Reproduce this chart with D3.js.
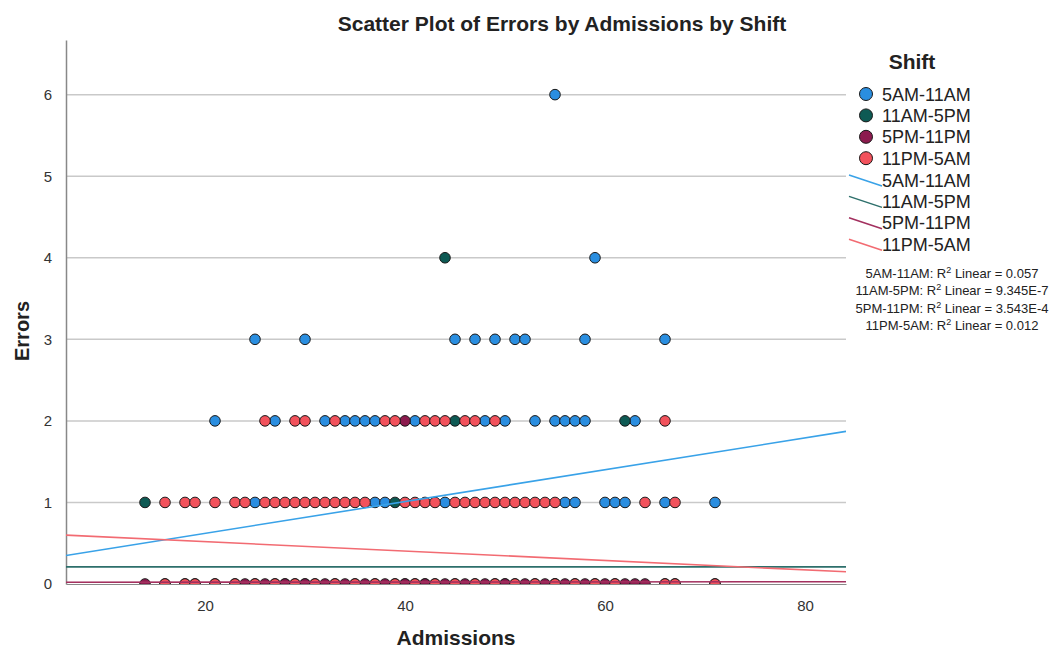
<!DOCTYPE html>
<html>
<head>
<meta charset="utf-8">
<script src="https://d3js.org/d3.v7.min.js"></script>
<style>
body { margin: 0; background: #fff; }
svg text { font-family: "Liberation Sans", Arial, sans-serif; }
</style>
</head>
<body>
<svg id="chart" width="1063" height="650"></svg>
<script>
// shift names, in legend order
var shifts = ["5AM-11AM", "11AM-5PM", "5PM-11PM", "11PM-5AM"];

// [admissions, errors]
var morningPoints = [
	[30, 0], [40, 0], [50, 0],
	[25, 1], [37, 1], [38, 1], [44, 1], [56, 1], [57, 1], [60, 1], [61, 1], [62, 1], [66, 1], [71, 1],
	[21, 2], [27, 2], [32, 2], [34, 2], [35, 2], [36, 2], [37, 2], [41, 2], [48, 2], [50, 2],
	[53, 2], [55, 2], [56, 2], [57, 2], [58, 2], [63, 2],
	[25, 3], [30, 3], [45, 3], [47, 3], [49, 3], [51, 3], [52, 3], [58, 3], [66, 3],
	[59, 4], [55, 6]
];
var afternoonPoints = [
	[28, 0], [42, 0], [55, 0],
	[14, 1], [39, 1],
	[45, 2], [62, 2],
	[44, 4]
];
var eveningPoints = [
	[14, 0], [16, 0], [18, 0], [19, 0], [21, 0], [23, 0], [24, 0], [25, 0], [26, 0], [27, 0], [28, 0],
	[29, 0], [30, 0], [31, 0], [32, 0], [33, 0], [34, 0], [35, 0], [36, 0], [37, 0], [38, 0], [39, 0],
	[40, 0], [41, 0], [42, 0], [43, 0], [44, 0], [45, 0], [46, 0], [47, 0], [48, 0], [49, 0], [50, 0],
	[51, 0], [52, 0], [53, 0], [54, 0], [55, 0], [56, 0], [57, 0], [58, 0], [59, 0], [60, 0], [61, 0],
	[62, 0], [63, 0], [64, 0], [66, 0], [67, 0], [71, 0],
	[40, 2]
];
var nightPoints = [
	[16, 0], [18, 0], [19, 0], [21, 0], [23, 0], [25, 0], [27, 0], [29, 0], [31, 0], [33, 0], [35, 0],
	[37, 0], [39, 0], [41, 0], [43, 0], [45, 0], [47, 0], [49, 0], [51, 0], [53, 0], [55, 0], [57, 0],
	[59, 0], [61, 0], [66, 0], [67, 0], [71, 0],
	[16, 1], [18, 1], [19, 1], [21, 1], [23, 1], [24, 1], [26, 1], [27, 1], [28, 1], [29, 1], [30, 1],
	[31, 1], [32, 1], [33, 1], [34, 1], [35, 1], [36, 1], [40, 1], [41, 1], [42, 1], [43, 1], [45, 1],
	[46, 1], [47, 1], [48, 1], [49, 1], [50, 1], [51, 1], [52, 1], [53, 1], [54, 1], [55, 1], [64, 1], [67, 1],
	[26, 2], [29, 2], [30, 2], [33, 2], [38, 2], [39, 2], [42, 2], [43, 2], [44, 2], [46, 2], [47, 2],
	[49, 2], [66, 2]
];

// linear fit lines (intercept, slope) and R squared from the legend
var fitIntercepts = [0.231, 0.21, 0.02, 0.635];
var fitSlopes = [0.0195, 0.0, 0.0001, -0.00577];
var fitR2 = ["0.057", "9.345E-7", "3.543E-4", "0.012"];

var xTicks = [20, 40, 60, 80];
var yTicks = [0, 1, 2, 3, 4, 5, 6];

var fillColors = ["#2a8ee0", "#0e5a54", "#8c1b4e", "#f2525c"];
var lineColors = ["#39a2e8", "#2d6f6b", "#a3305f", "#f26b72"];

var WIDTH = 1063, HEIGHT = 650, MARGINS = {
	top : 40,
	right : 217,
	bottom : 66,
	left : 66
};

var vis = d3.select("#chart");
var allPoints = [morningPoints, afternoonPoints, eveningPoints, nightPoints];

var xScale = d3.scaleLinear().domain([ 6.1, 84.1 ])
		.range([ MARGINS.left, WIDTH - MARGINS.right ]);
var yScale = d3.scaleLinear().domain([ 0, 6.67 ])
		.range([ HEIGHT - MARGINS.bottom, MARGINS.top ]);

// title
vis.append("text")
	.attr("x", 562).attr("y", 31)
	.attr("text-anchor", "middle")
	.style("font-size", "21px").style("font-weight", "bold").style("fill", "#222")
	.text("Scatter Plot of Errors by Admissions by Shift");

// grid lines
vis.append("g").selectAll("line")
	.data(yTicks.filter(function(d) { return d > 0; }))
	.enter().append("line")
	.attr("x1", MARGINS.left).attr("x2", WIDTH - MARGINS.right)
	.attr("y1", function(d) { return yScale(d); })
	.attr("y2", function(d) { return yScale(d); })
	.attr("stroke", "#c9c9c9").attr("stroke-width", 1.5);

var xAxis = d3.axisBottom(xScale).tickValues(xTicks).tickSize(0).tickPadding(16)
		.tickFormat(d3.format("d"));
var yAxis = d3.axisLeft(yScale).tickValues(yTicks).tickSize(0).tickPadding(14)
		.tickFormat(d3.format("d"));

var gx = vis.append("g").attr("transform", "translate(0," + (HEIGHT - MARGINS.bottom) + ")").call(xAxis);
var gy = vis.append("g").attr("transform", "translate(" + MARGINS.left + ",0)").call(yAxis);
gx.select(".domain").attr("stroke", "#888");
gy.select(".domain").attr("stroke", "#888").attr("stroke-width", 1.5);
[gx, gy].forEach(function(g) {
	g.selectAll("text").style("font-size", "15px").style("fill", "#333")
		.style("font-family", "'Liberation Sans', Arial, sans-serif");
});

// axis titles
vis.append("text")
	.attr("x", 456).attr("y", 645)
	.attr("text-anchor", "middle")
	.style("font-size", "21px").style("font-weight", "bold").style("fill", "#222")
	.text("Admissions");
vis.append("text")
	.attr("transform", "translate(29,331) rotate(-90)")
	.attr("text-anchor", "middle")
	.style("font-size", "20px").style("font-weight", "bold").style("fill", "#222")
	.text("Errors");

// clip to plot area
vis.append("clipPath").attr("id", "plotClip")
	.append("rect")
	.attr("x", MARGINS.left).attr("y", MARGINS.top)
	.attr("width", WIDTH - MARGINS.left - MARGINS.right)
	.attr("height", HEIGHT - MARGINS.top - MARGINS.bottom);

var plot = vis.append("g").attr("clip-path", "url(#plotClip)");

// points, one group per shift
allPoints.forEach(function(pts, i) {
	plot.append("g").selectAll("circle")
		.data(pts)
		.enter().append("circle")
		.attr("cx", function(d) { return xScale(d[0]); })
		.attr("cy", function(d) { return yScale(d[1]); })
		.attr("r", 5.3)
		.attr("fill", fillColors[i])
		.attr("stroke", "#1a1a1a").attr("stroke-width", 1);
});

// fit lines
var xDom = xScale.domain();
shifts.forEach(function(s, i) {
	var line = d3.line()
		.x(function(d) { return xScale(d); })
		.y(function(d) { return yScale(fitIntercepts[i] + fitSlopes[i] * d); });
	plot.append("path")
		.attr("d", line(xDom))
		.attr("stroke", lineColors[i]).attr("stroke-width", 1.6).attr("fill", "none");
});

// legend
var legend = vis.append("g");
legend.append("text")
	.attr("x", 912).attr("y", 69)
	.attr("text-anchor", "middle")
	.style("font-size", "21px").style("font-weight", "bold").style("fill", "#222")
	.text("Shift");

shifts.forEach(function(s, i) {
	var y = 94 + i * 21.4;
	legend.append("circle")
		.attr("cx", 866).attr("cy", y).attr("r", 6.5)
		.attr("fill", fillColors[i]).attr("stroke", "#1a1a1a").attr("stroke-width", 1);
	legend.append("text")
		.attr("x", 882).attr("y", y + 6.5)
		.style("font-size", "18px").style("fill", "#222")
		.text(s);
});
shifts.forEach(function(s, i) {
	var y = 180 + i * 21.4;
	legend.append("line")
		.attr("x1", 849).attr("y1", y - 5).attr("x2", 882).attr("y2", y + 6)
		.attr("stroke", lineColors[i]).attr("stroke-width", 1.5);
	legend.append("text")
		.attr("x", 882).attr("y", y + 6.5)
		.style("font-size", "18px").style("fill", "#222")
		.text(s);
});

// R squared notes
shifts.forEach(function(s, i) {
	var t = legend.append("text")
		.attr("x", 952).attr("y", 278 + i * 17.4)
		.attr("text-anchor", "middle")
		.style("font-size", "13px").style("fill", "#222");
	t.append("tspan").text(s + ": R");
	t.append("tspan").attr("dy", -5).style("font-size", "9px").text("2");
	t.append("tspan").attr("dy", 5).text(" Linear = " + fitR2[i]);
});
</script>
</body>
</html>
